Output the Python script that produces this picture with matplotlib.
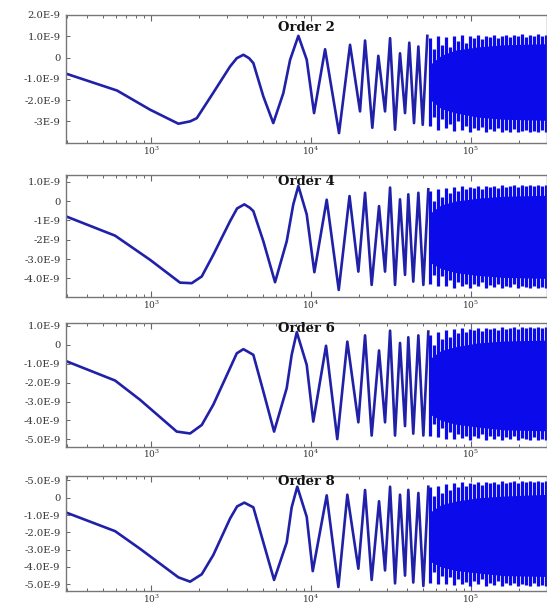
import matplotlib
matplotlib.use('Agg')
import matplotlib.pyplot as plt
from matplotlib.ticker import FixedLocator, LogLocator, NullFormatter, FixedFormatter

plt.rcParams['font.family'] = ['DejaVu Serif']
plt.rcParams['mathtext.fontset'] = 'dejavuserif'

titles = ['Order 2', 'Order 4', 'Order 6', 'Order 8']

# ---- resolved oscillation part (x in Hz, y in units of 1e-9) ----
p1_x = [298, 613, 986, 1482, 1754, 1931, 2441, 3118, 3434, 3777, 4100, 4359, 5035, 5808,
        6713, 7396, 8334, 9397, 10445, 12240, 14962, 17530, 20240, 21760, 24160, 26340,
        29010, 31190, 33500, 35980, 38680, 41130, 44020, 46870, 49910, 53330]
p1_y = [-0.77, -1.55, -2.45, -3.11, -3.0, -2.85, -1.67, -0.42, -0.03, 0.13, -0.03, -0.26, -1.83, -3.08,
        -1.67, -0.11, 1.02, -0.1, -2.61, 0.39, -3.55, 0.6, -2.53, 0.8, -3.3, 0.08,
        -2.53, 0.91, -3.39, 0.2, -2.61, 0.7, -3.08, 0.52, -3.16, 1.02]

p2_x = [298, 596, 986, 1517, 1795, 2075, 2449, 3118, 3450, 3829, 4150, 4359, 5035, 5957,
        7047, 7745, 8334, 9397, 10490, 12530, 14900, 17400, 19760, 21760, 23930, 26610,
        29010, 31190, 33500, 35980, 38680, 40550, 43560, 46870, 50360, 54090]
p2_y = [-0.81, -1.79, -3.04, -4.22, -4.25, -3.9, -2.78, -1.04, -0.38, -0.17, -0.35, -0.52, -2.08, -4.2,
        -2.08, -0.17, 0.78, -0.69, -3.68, 0.07, -4.6, 0.26, -3.65, 0.43, -4.34, -0.26,
        -3.65, 0.7, -4.34, 0.09, -3.82, 0.35, -4.17, 0.43, -4.34, 0.61]

p3_x = [298, 596, 854, 1447, 1754, 2075, 2449, 3118, 3434, 3777, 4100, 4359, 5035, 5875,
        7047, 7568, 8145, 9397, 10330, 12410, 14590, 16860, 19760, 21760, 23930, 26610,
        29010, 31190, 33500, 35980, 38680, 40550, 43560, 46870, 50360, 54090]
p3_y = [-0.88, -1.89, -2.91, -4.59, -4.69, -4.24, -3.17, -1.23, -0.45, -0.23, -0.4, -0.53, -2.47, -4.59,
        -2.29, -0.53, 0.67, -1.06, -4.06, -0.05, -4.99, 0.17, -4.1, 0.5, -4.8, -0.3,
        -4.1, 0.75, -4.8, 0.1, -4.3, 0.4, -4.7, 0.5, -4.8, 0.7]

p4_x = [298, 596, 854, 1482, 1754, 2075, 2449, 3118, 3450, 3829, 4150, 4359, 5035, 5875,
        7047, 7568, 8204, 9397, 10250, 12530, 14820, 16860, 19760, 21760, 23930, 26610,
        29010, 31190, 33500, 35980, 38680, 40550, 43560, 46870, 50360, 54090]
p4_y = [-0.87, -1.93, -2.95, -4.6, -4.85, -4.42, -3.31, -1.2, -0.5, -0.28, -0.45, -0.55, -2.58, -4.75,
        -2.58, -0.55, 0.64, -1.1, -4.24, 0.14, -5.16, 0.18, -4.1, 0.45, -4.75, -0.2,
        -4.2, 0.64, -4.95, 0.18, -4.5, 0.46, -4.9, 0.28, -5.1, 0.64]

# ---- dense high-frequency part: spike tips and solid core band ----
spike_x = [55400, 58700, 62200, 65900, 69800, 73900, 78300, 82900, 87800, 93000,
           98500, 104300, 110500, 117100, 124000, 131400, 139200, 147400, 156100, 165400,
           175200, 185600, 196600, 208200, 220500, 233600, 247500, 262100, 277700, 294100]
p1_hi = [0.9, 0.4, 1.0, 0.6, 0.95, 0.5, 1.0, 0.8, 1.05, 0.7, 1.0, 0.9, 1.05, 0.85, 1.0,
         0.95, 1.05, 0.9, 1.0, 1.05, 0.95, 1.05, 1.0, 1.1, 0.95, 1.05, 1.0, 1.1, 1.0, 1.05]
p1_lo = [-3.2, -2.8, -3.4, -2.9, -3.3, -3.1, -3.45, -3.0, -3.4, -3.2, -3.5, -3.3, -3.4, -3.25, -3.5,
         -3.35, -3.45, -3.3, -3.5, -3.4, -3.5, -3.35, -3.5, -3.45, -3.4, -3.5, -3.45, -3.5, -3.4, -3.5]
p2_hi = [0.5, 0.0, 0.6, 0.2, 0.7, 0.4, 0.75, 0.5, 0.8, 0.6, 0.75, 0.7, 0.8, 0.65, 0.8,
         0.75, 0.8, 0.7, 0.85, 0.75, 0.8, 0.85, 0.75, 0.85, 0.8, 0.85, 0.8, 0.85, 0.8, 0.85]
p2_lo = [-4.3, -3.8, -4.4, -3.9, -4.4, -4.1, -4.5, -4.2, -4.4, -4.3, -4.5, -4.3, -4.4, -4.2, -4.5,
         -4.35, -4.45, -4.3, -4.5, -4.4, -4.45, -4.3, -4.5, -4.4, -4.45, -4.5, -4.4, -4.5, -4.45, -4.5]
p3_hi = [0.5, 0.0, 0.7, 0.3, 0.8, 0.4, 0.85, 0.6, 0.9, 0.7, 0.85, 0.8, 0.9, 0.75, 0.9,
         0.85, 0.9, 0.8, 0.95, 0.85, 0.9, 0.95, 0.85, 0.95, 0.9, 0.95, 0.9, 0.95, 0.9, 0.95]
p3_lo = [-4.8, -4.2, -4.9, -4.4, -5.0, -4.6, -5.0, -4.7, -4.95, -4.8, -5.05, -4.8, -4.95, -4.7, -5.05,
         -4.85, -5.0, -4.8, -5.05, -4.9, -5.0, -4.85, -5.05, -4.95, -5.0, -5.05, -4.9, -5.05, -5.0, -5.05]
p4_hi = [0.6, 0.1, 0.7, 0.3, 0.8, 0.45, 0.85, 0.6, 0.9, 0.7, 0.85, 0.8, 0.9, 0.75, 0.9,
         0.85, 0.9, 0.8, 0.95, 0.85, 0.9, 0.95, 0.85, 0.95, 0.9, 0.95, 0.9, 0.95, 0.9, 0.95]
p4_lo = [-4.9, -4.3, -5.0, -4.5, -5.0, -4.6, -5.05, -4.7, -5.0, -4.85, -5.1, -4.8, -5.0, -4.7, -5.1,
         -4.9, -5.05, -4.8, -5.1, -4.95, -5.05, -4.9, -5.1, -5.0, -5.05, -5.1, -4.95, -5.1, -5.05, -5.1]

core_x = [56000, 65000, 80000, 110000, 160000, 300000]
p1_core_hi = [-0.3, 0.1, 0.35, 0.5, 0.6, 0.65]
p1_core_lo = [-2.0, -2.4, -2.6, -2.8, -2.9, -2.95]
p2_core_hi = [-0.6, -0.2, 0.0, 0.15, 0.25, 0.3]
p2_core_lo = [-3.2, -3.5, -3.7, -3.85, -3.95, -4.0]
p3_core_hi = [-0.7, -0.3, -0.1, 0.1, 0.2, 0.25]
p3_core_lo = [-3.7, -4.0, -4.2, -4.35, -4.5, -4.55]
p4_core_hi = [-0.8, -0.4, -0.2, 0.0, 0.1, 0.2]
p4_core_lo = [-3.7, -4.0, -4.2, -4.35, -4.5, -4.55]

# ---- axis ticks / limits ----
p1_yticks = [2, 1, 0, -1, -2, -3]
p1_ylabels = ['2.0E-9', '1.0E-9', '0', '-1.0E-9', '-2.0E-9', '-3E-9']
p2_yticks = [1, 0, -1, -2, -3, -4]
p2_ylabels = ['1.0E-9', '0', '-1E-9', '-2E-9', '-3.0E-9', '-4.0E-9']
p3_yticks = [1, 0, -1, -2, -3, -4, -5]
p3_ylabels = ['1.0E-9', '0', '-1.0E-9', '-2.0E-9', '-3.0E-9', '-4.0E-9', '-5.0E-9']
p4_yticks = [1, 0, -1, -2, -3, -4, -5]
p4_ylabels = ['-5.0E-9', '0', '-1.0E-9', '-2.0E-9', '-3.0E-9', '-4.0E-9', '-5.0E-9']
p1_ylim = (-4.03, 2.0)
p2_ylim = (-4.98, 1.35)
p3_ylim = (-5.39, 1.17)
p4_ylim = (-5.39, 1.26)
xticks = [1e3, 1e4, 1e5]
xticklabels = ['$10^{3}$', '$10^{4}$', '$10^{5}$']
x_range = (294, 298500)

panels = [
    (p1_x, p1_y, p1_hi, p1_lo, p1_core_hi, p1_core_lo, p1_yticks, p1_ylabels, p1_ylim),
    (p2_x, p2_y, p2_hi, p2_lo, p2_core_hi, p2_core_lo, p2_yticks, p2_ylabels, p2_ylim),
    (p3_x, p3_y, p3_hi, p3_lo, p3_core_hi, p3_core_lo, p3_yticks, p3_ylabels, p3_ylim),
    (p4_x, p4_y, p4_hi, p4_lo, p4_core_hi, p4_core_lo, p4_yticks, p4_ylabels, p4_ylim),
]

W, H = 547, 605
# pixel layout: left, top, bottom
boxes = [(66, 15, 143.3), (66, 175, 297.3), (66, 322.7, 446.7), (66, 476, 591)]
title_y = [0.905, 0.945, 0.955, 0.95]

fig = plt.figure(figsize=(W / 100, H / 100), dpi=100)
line_col = '#2020a8'
dense_col = '#0a0aea'

for i, (px, py, hi, lo, chi, clo, yt, yl, ylim) in enumerate(panels):
    l, t, b = boxes[i]
    ax = fig.add_axes([l / W, 1 - b / H, (W - l) / W, (b - t) / H])
    ax.set_xscale('log')
    ax.fill_between(core_x, clo, chi, color=dense_col, lw=0)
    ax.vlines(spike_x, lo, hi, colors=dense_col, lw=2.3)
    ax.plot(px, py, color=line_col, lw=1.9)
    ax.set_xlim(*x_range)
    ax.set_ylim(*ylim)
    ax.yaxis.set_major_locator(FixedLocator(yt))
    ax.yaxis.set_major_formatter(FixedFormatter(yl))
    ax.xaxis.set_major_locator(FixedLocator(xticks))
    ax.xaxis.set_major_formatter(FixedFormatter(xticklabels))
    ax.xaxis.set_minor_locator(LogLocator(base=10, subs=range(2, 10)))
    ax.xaxis.set_minor_formatter(NullFormatter())
    ax.tick_params(axis='x', which='both', direction='in', top=True, bottom=True,
                   color='#666666', labelsize=6.5, labelcolor='#333333', pad=1)
    ax.tick_params(axis='x', which='major', length=4, width=0.8)
    ax.tick_params(axis='x', which='minor', length=2.5, width=0.7)
    ax.tick_params(axis='y', which='major', direction='in', length=3, width=0.7,
                   color='#666666', labelsize=7.2, labelcolor='#333333', pad=4)
    for s in ax.spines.values():
        s.set_color('#777777')
        s.set_linewidth(1.0)
    ax.text(0.5, title_y[i], titles[i], transform=ax.transAxes, ha='center', va='center',
            fontsize=9.5, fontweight='bold', color='#111111')

fig.savefig('out.png', dpi=100)
